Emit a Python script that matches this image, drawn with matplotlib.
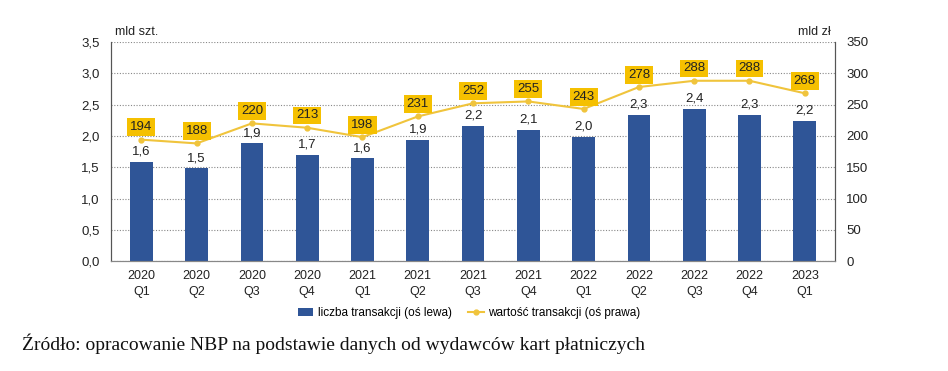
import numpy as np
import matplotlib.pyplot as plt

plt.rcParams['font.family'] = ['Liberation Sans', 'DejaVu Sans']

quarters = ['2020\nQ1', '2020\nQ2', '2020\nQ3', '2020\nQ4', '2021\nQ1', '2021\nQ2', '2021\nQ3',
            '2021\nQ4', '2022\nQ1', '2022\nQ2', '2022\nQ3', '2022\nQ4', '2023\nQ1']
liczba = [1.58, 1.48, 1.88, 1.70, 1.64, 1.93, 2.16, 2.09, 1.98, 2.34, 2.43, 2.34, 2.24]
wartosc = [194, 188, 220, 213, 198, 231, 252, 255, 243, 278, 288, 288, 268]

bar_col = '#2F5597'
line_col = '#F0C43C'
box_col = '#F5C000'

fig = plt.figure(figsize=(9.48, 3.71), dpi=100)
ax = fig.add_axes([0.117, 0.296, 0.764, 0.591])
ax2 = ax.twinx()

x = np.arange(len(quarters))
ax.bar(x, liczba, width=0.41, color=bar_col, zorder=2, label='liczba transakcji (oś lewa)')
for xi, v in zip(x, liczba):
    ax.text(xi, v + 0.07, f'{v:.1f}'.replace('.', ','), ha='center', va='bottom',
            fontsize=9.5, color='#222222')

ax.set_ylim(0, 3.5)
ax.set_yticks(np.arange(0, 3.51, 0.5))
ax.set_yticklabels([f'{t:.1f}'.replace('.', ',') for t in np.arange(0, 3.51, 0.5)])
ax.set_xlim(-0.55, len(quarters) - 0.45)
ax.set_xticks(x)
ax.set_xticklabels(quarters, fontsize=9, linespacing=1.45)
ax.grid(axis='y', linestyle=(0, (1, 1.5)), color='#888888', linewidth=0.8, zorder=0)
ax.set_axisbelow(True)

ax2.plot(x, wartosc, color=line_col, linewidth=1.5, marker='o', markersize=3.5, zorder=3,
         label='wartość transakcji (oś prawa)')
for xi, v in zip(x, wartosc):
    ax2.text(xi, v + 10, str(v), ha='center', va='bottom', fontsize=9.5, color='#222222',
             bbox=dict(boxstyle='square,pad=0.22', facecolor=box_col, edgecolor='none'))
ax2.set_ylim(0, 350)
ax2.set_yticks(range(0, 351, 50))

for a in (ax, ax2):
    a.tick_params(length=0, labelsize=9.5, colors='#222222', pad=8)
    a.spines['top'].set_visible(False)
    a.spines['left'].set_color('#555555')
    a.spines['right'].set_color('#555555')
    a.spines['bottom'].set_color('#888888')
ax.tick_params(axis='x', pad=6, labelsize=9)

fig.text(0.121, 0.905, 'mld szt.', fontsize=9, color='#222222')
fig.text(0.842, 0.905, 'mld zł', fontsize=9, color='#222222')

h1, l1 = ax.get_legend_handles_labels()
h2, l2 = ax2.get_legend_handles_labels()
fig.legend(h1 + h2, l1 + l2, loc='center', bbox_to_anchor=(0.495, 0.156), ncol=2, frameon=False,
           fontsize=8.5, handlelength=1.3, handleheight=0.6, handletextpad=0.4,
           columnspacing=1.4)

fig.text(0.023, 0.057, 'Źródło: opracowanie NBP na podstawie danych od wydawców kart płatniczych',
         fontsize=14, family=['Liberation Serif', 'DejaVu Serif'], color='#111111')

fig.savefig('out.png', dpi=100, facecolor='white')
